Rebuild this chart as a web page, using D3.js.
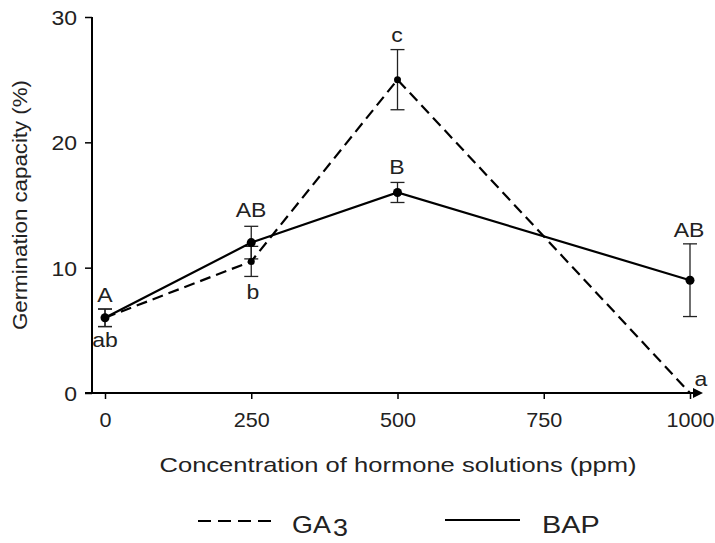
<!DOCTYPE html>
<html>
<head>
<meta charset="utf-8">
<script src="https://cdn.jsdelivr.net/npm/d3@7"></script>
<style>
  body { margin: 0; background: #fff; }
  text { font-family: "Liberation Sans", Arial, sans-serif; fill: #222; }
</style>
</head>
<body>
<div id="chart"></div>
<script>
// concentrations (ppm)
const conc = [0, 250, 500, 1000];
const xTicks = [0, 250, 500, 750, 1000];
const yTicks = [0, 10, 20, 30];

// GA3 series
const ga3Mean = [6, 10.5, 25, 0];
const ga3Err = [0.7, 1.2, 2.4, 0];
const ga3Letters = ["ab", "b", "c", "a"];

// BAP series
const bapMean = [6, 12, 16, 9];
const bapErr = [0.7, 1.3, 0.8, 2.9];
const bapLetters = ["A", "AB", "B", "AB"];

var width = 715, height = 543;
var margin = {left: 92, top: 17};
var stretch = 1.15; // the original text is a bit wider than Arial

var svg = d3.select("#chart").append("svg")
    .attr("width", width)
    .attr("height", height);

var x = d3.scaleLinear().domain([0, 1000]).range([105, 690]);
var y = d3.scaleLinear().domain([0, 30]).range([393, 17]);

var ga3 = conc.map((c, i) => ({c: c, v: ga3Mean[i], e: ga3Err[i], l: ga3Letters[i]}));
var bap = conc.map((c, i) => ({c: c, v: bapMean[i], e: bapErr[i], l: bapLetters[i]}));

// y axis
var yAxis = svg.append("g")
    .attr("transform", "translate(" + margin.left + ",0)")
    .call(d3.axisLeft(y).tickValues(yTicks).tickSize(7).tickSizeOuter(0).tickPadding(0));
yAxis.select(".domain").attr("stroke", "#000").attr("stroke-width", 2)
    .attr("d", "M0," + y(30) + "V" + y(0));
yAxis.selectAll(".tick line").attr("stroke-width", 1.5);
yAxis.selectAll("text").style("font-size", "20px").attr("fill", "#222")
    .style("font-family", "Liberation Sans, Arial, sans-serif")
    .attr("x", null)
    .attr("transform", "translate(-15,1) scale(" + stretch + ",1)");

// x axis
var xAxis = svg.append("g")
    .attr("transform", "translate(0," + y(0) + ")")
    .call(d3.axisBottom(x).tickValues(xTicks).tickFormat(d3.format("d"))
        .tickSize(6).tickSizeOuter(0).tickPadding(0));
xAxis.select(".domain").attr("stroke", "#000").attr("stroke-width", 2)
    .attr("d", "M" + (margin.left - 7) + ",0H" + 695);
xAxis.selectAll(".tick line").attr("stroke-width", 1.5);
xAxis.selectAll("text").style("font-size", "20px").attr("fill", "#222")
    .style("font-family", "Liberation Sans, Arial, sans-serif")
    .attr("y", null).attr("dy", null)
    .attr("transform", "translate(0,34) scale(1.08,1)");
// arrow head
xAxis.append("path")
    .attr("d", "M693,-5L703,0L693,5Z")
    .attr("fill", "#000");

// titles
svg.append("text")
    .attr("x", 398).attr("y", 472)
    .attr("text-anchor", "middle")
    .attr("textLength", 477).attr("lengthAdjust", "spacingAndGlyphs")
    .style("font-size", "21px")
    .text("Concentration of hormone solutions (ppm)");
svg.append("text")
    .attr("transform", "translate(27,205) rotate(-90)")
    .attr("text-anchor", "middle")
    .attr("textLength", 250).attr("lengthAdjust", "spacingAndGlyphs")
    .style("font-size", "21px")
    .text("Germination capacity (%)");

var line = d3.line().x(d => x(d.c)).y(d => y(d.v));

function errorBars(data) {
    var g = svg.append("g").attr("stroke", "#222").attr("stroke-width", 1.3);
    data.filter(d => d.e > 0).forEach(function(d) {
        g.append("line").attr("x1", x(d.c)).attr("x2", x(d.c))
            .attr("y1", y(d.v + d.e)).attr("y2", y(d.v - d.e));
        [d.v + d.e, d.v - d.e].forEach(function(v) {
            g.append("line").attr("x1", x(d.c) - 7).attr("x2", x(d.c) + 7)
                .attr("y1", y(v)).attr("y2", y(v));
        });
    });
}

errorBars(ga3);
errorBars(bap);

// lines
svg.append("path").datum(ga3)
    .attr("d", line)
    .attr("fill", "none").attr("stroke", "#000")
    .attr("stroke-width", 2.2).attr("stroke-dasharray", "11,6");
svg.append("path").datum(bap)
    .attr("d", line)
    .attr("fill", "none").attr("stroke", "#000")
    .attr("stroke-width", 2.2);

// markers
svg.append("g").selectAll("circle").data(ga3.filter(d => d.v > 0)).join("circle")
    .attr("cx", d => x(d.c)).attr("cy", d => y(d.v)).attr("r", 3.5).attr("fill", "#000");
svg.append("g").selectAll("circle").data(bap).join("circle")
    .attr("cx", d => x(d.c)).attr("cy", d => y(d.v)).attr("r", 4.5).attr("fill", "#000");

// letters: BAP above the points, GA3 mostly below
var bapPos = [[105, 302], [251, 217], [397, 174], [689, 237]];
var ga3Pos = [[105, 347], [253, 299], [397, 42], [701, 386]];
function letters(data, pos) {
    svg.append("g").selectAll("text").data(data).join("text")
        .attr("transform", (d, i) => "translate(" + pos[i][0] + "," + pos[i][1] + ") scale(" + stretch + ",1)")
        .attr("text-anchor", "middle").style("font-size", "20px")
        .text(d => d.l);
}
letters(bap, bapPos);
letters(ga3, ga3Pos);

// legend
var leg = svg.append("g");
leg.append("line").attr("x1", 198).attr("x2", 276).attr("y1", 521).attr("y2", 521)
    .attr("stroke", "#000").attr("stroke-width", 2).attr("stroke-dasharray", "13,7");
var t = leg.append("text").attr("transform", "translate(292,533) scale(1.12,1)")
    .style("font-size", "24px");
t.append("tspan").text("GA");
t.append("tspan").attr("dx", 2).attr("dy", 3).text("3");
leg.append("line").attr("x1", 445).attr("x2", 520).attr("y1", 520).attr("y2", 520)
    .attr("stroke", "#000").attr("stroke-width", 2);
leg.append("text").attr("transform", "translate(542,533) scale(1.2,1)")
    .style("font-size", "24px").text("BAP");
</script>
</body>
</html>
